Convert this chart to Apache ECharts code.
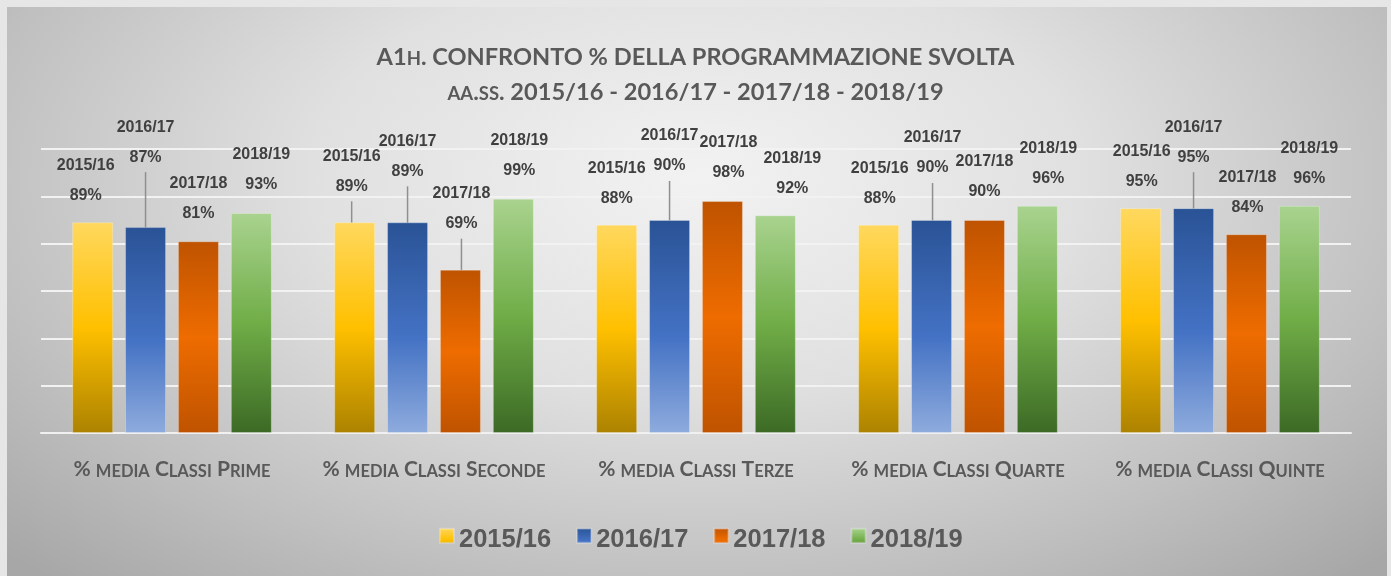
<!DOCTYPE html>
<html><head><meta charset="utf-8">
<script src="https://cdn.jsdelivr.net/npm/echarts@6/dist/echarts.min.js"></script>
<style>
html,body{margin:0;padding:0;background:#e6e6e6;overflow:hidden;}
#bg{position:absolute;left:7px;top:7px;width:1380px;height:569px;
background:radial-gradient(ellipse 70% 95% at 50% 30%, #f2f2f2 0%, #e0e0e0 40%, #c0c0c0 75%, #a7a7a7 100%);}
#chart{position:absolute;left:0;top:0;width:1391px;height:576px;}
</style></head><body>
<div id="bg"></div><div id="chart"></div>
<script>
// ---- data ----
const titleLine1 = 'A1h. CONFRONTO % DELLA PROGRAMMAZIONE SVOLTA';
const titleLine2 = 'aa.ss. 2015/16 - 2016/17 - 2017/18 - 2018/19';
const categories = ['% media Classi Prime', '% media Classi Seconde', '% media Classi Terze', '% media Classi Quarte', '% media Classi Quinte'];
const years = ['2015/16', '2016/17', '2017/18', '2018/19'];
const v2015_16 = [89, 89, 88, 88, 95];
const v2016_17 = [87, 89, 90, 90, 95];
const v2017_18 = [81, 69, 98, 90, 84];
const v2018_19 = [93, 99, 92, 96, 96];
const yMin = 0, yMax = 120, yStep = 20;

// ---- styling (label callout placement, as in the original) ----
const labelShift = [
  [[-7, -12], [-3, -21], [0, -11], [1, -11], [1, -12]],
  [[0, -55], [0, -36], [0, -39], [1, -37], [0, -36]],
  [[0, -13], [1, -31], [6, -13], [0, -13], [1, -12]],
  [[10, -13], [6, -13], [17, -12], [11, -12], [10, -12]]
];
const leader = [
  [false, true, false, false, false],
  [true, true, true, true, true],
  [false, true, false, false, false],
  [false, false, false, false, false]
];
const gradients = [
  [['#FFD85E', 0], ['#FFC000', 0.5], ['#AC8200', 1]],
  [['#2A5396', 0], ['#4472C4', 0.55], ['#8EABDD', 1]],
  [['#BF5300', 0], ['#EE6C00', 0.5], ['#BF5300', 1]],
  [['#A9D38F', 0], ['#70AD47', 0.5], ['#3C6A25', 1]]
];
const seriesValues = [v2015_16, v2016_17, v2017_18, v2018_19];

function smallCaps(str, big, small) {
  let out = '', cur = null, buf = '';
  for (const ch of str) {
    const isLower = ch !== ch.toUpperCase();
    const t = isLower ? small : big;
    const c = isLower ? ch.toUpperCase() : ch;
    if (t !== cur) { if (buf) out += '{' + cur + '|' + buf + '}'; buf = ''; cur = t; }
    buf += c;
  }
  if (buf) out += '{' + cur + '|' + buf + '}';
  return out;
}

const grad = g => ({type: 'linear', x: 0, y: 0, x2: 0, y2: 1,
  colorStops: g.map(s => ({color: s[0], offset: s[1]}))});

const titleFont = 'Lato, "Open Sans", sans-serif';
const titleRich = {
  B: {fontFamily: titleFont, fontWeight: 'bold', fontSize: 23.6, color: '#595959', verticalAlign: 'bottom'},
  S: {fontFamily: titleFont, fontWeight: 'bold', fontSize: 18.5, color: '#595959', verticalAlign: 'bottom'}
};
const axisRich = {
  B: {fontFamily: titleFont, fontWeight: 'bold', fontSize: 21, color: '#595959', verticalAlign: 'bottom'},
  S: {fontFamily: titleFont, fontWeight: 'bold', fontSize: 16.5, color: '#595959', verticalAlign: 'bottom'}
};

const chart = echarts.init(document.getElementById('chart'), null, {renderer: 'canvas'});
chart.setOption({
  backgroundColor: 'transparent',
  animation: false,
  title: [
    {text: smallCaps(titleLine1, 'B', 'S'), left: 'center', top: 40, textStyle: {rich: titleRich}},
    {text: smallCaps(titleLine2, 'B', 'S'), left: 'center', top: 75, textStyle: {rich: titleRich}}
  ],
  legend: {
    data: years, left: 434, top: 522, itemWidth: 14, itemHeight: 24, itemGap: 25,
    icon: 'path://M0,0h10v10h-10z M0,16h0.01',
    textStyle: {fontFamily: '"Liberation Sans", Arial, sans-serif', fontWeight: 'bold', fontSize: 25.5, color: '#595959'}
  },
  grid: {left: 41, right: 40, top: 149, bottom: 143},
  xAxis: {
    type: 'category', data: categories,
    axisLine: {show: true, lineStyle: {color: '#f0f0f0', width: 2}},
    axisTick: {show: false},
    axisLabel: {interval: 0, margin: 26, formatter: v => smallCaps(v, 'B', 'S'), rich: axisRich}
  },
  yAxis: {
    type: 'value', min: yMin, max: yMax, interval: yStep,
    axisLabel: {show: false}, axisLine: {show: false}, axisTick: {show: false},
    splitLine: {lineStyle: {color: '#f2f2f2', width: 2}}
  },
  series: years.map((y, si) => ({
    name: y, type: 'bar', barWidth: 41, barGap: '29%',
    itemStyle: {color: grad(gradients[si]), borderColor: 'rgba(255,255,255,0.25)', borderWidth: 1},
    data: seriesValues[si].map((v, i) => ({value: v, labelLine: {show: leader[si][i]}})),
    label: {
      show: true, position: 'top', distance: 0,
      formatter: p => p.seriesName + '\n' + p.value + '%',
      fontFamily: '"Liberation Sans", Arial, sans-serif', fontWeight: 'bold', fontSize: 16,
      color: '#404040', lineHeight: 30, align: 'center'
    },
    labelLine: {show: false, lineStyle: {color: '#8f8f8f', width: 1.5}},
    labelLayout: p => ({dx: labelShift[p.seriesIndex][p.dataIndex][0], dy: labelShift[p.seriesIndex][p.dataIndex][1]})
  }))
});
</script>
</body></html>
